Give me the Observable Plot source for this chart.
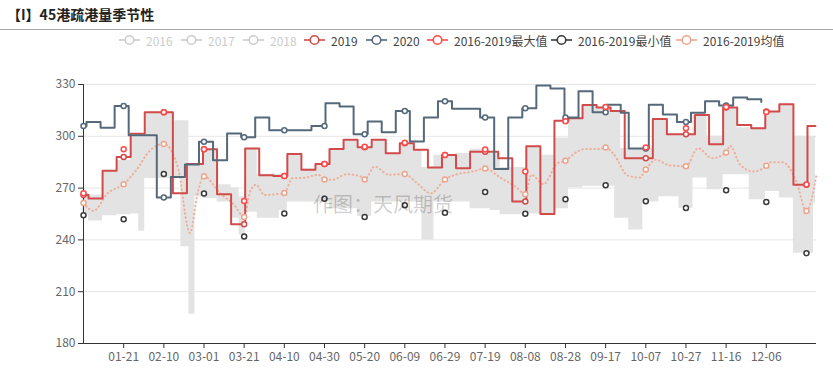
<!DOCTYPE html>
<html><head><meta charset="utf-8">
<script src="https://cdn.jsdelivr.net/npm/d3@7"></script>
<script src="https://cdn.jsdelivr.net/npm/@observablehq/plot@0.6"></script>
<style>
body{margin:0;background:#fff;font-family:"Noto Sans CJK SC","Noto Sans",sans-serif;}
#wrap{position:relative;width:833px;height:371px;overflow:hidden;background:#fff;}
#title{position:absolute;left:0;top:0;width:833px;height:30px;box-sizing:border-box;border-bottom:1px solid #a8a8a8;font-weight:bold;font-size:14px;line-height:29px;padding-left:7px;color:#222;}
#legend{position:absolute;left:0;top:31px;width:833px;height:18px;}
.li{position:absolute;top:0;height:18px;display:flex;align-items:center;font-size:12px;white-space:nowrap;}
.li svg{margin-right:6px;}
#chart{position:absolute;left:0;top:50px;}
#chart svg text{fill:#666;}
#wm{position:absolute;left:313px;top:194px;font-size:20px;line-height:20px;color:rgba(0,0,0,0.2);white-space:nowrap;}
</style></head>
<body>
<div id="wrap">
  <div id="title">【I】45港疏港量季节性</div>
  <div id="legend"></div>
  <div id="chart"></div>
  <div id="wm">作图：天风期货</div>
</div>
<script>
// ---------- data ----------
const xTickLabels = ["01-21","02-10","03-01","03-21","04-10","04-30","05-20","06-09","06-29","07-19","08-08","08-28","09-17","10-07","10-27","11-16","12-06"];
const yTicks = [180,210,240,270,300,330];

const dates2019 = ["01-01","01-04","01-11","01-18","01-25","02-01","02-08","02-15","02-22","03-01","03-08","03-15","03-22","03-29","04-05","04-12","04-19","04-26","05-03","05-10","05-17","05-24","05-31","06-07","06-14","06-21","06-28","07-05","07-12","07-19","07-26","08-02","08-09","08-16","08-23","08-30","09-06","09-13","09-20","09-27","10-04","10-11","10-18","10-25","11-01","11-08","11-15","11-22","11-29","12-06","12-13","12-20","12-27"];
const values2019 = [266,264,280,288,301.5,314,314,267,284,292.5,266.5,249,293,277.5,277,289.7,280.6,284,292.7,298,293.7,298,290.2,296,292.2,282,289.2,281.5,291,291,287.3,262.3,294.3,255,309,310.5,318.2,316.7,314.7,287.3,287.3,310,301.2,301.2,312.4,295.4,316.7,306.6,304.7,314.4,318.6,271.9,306];

const dates2020 = ["01-01","01-03","01-10","01-17","01-24","01-31","02-07","02-14","02-21","02-28","03-06","03-13","03-20","03-27","04-03","04-10","04-17","04-24","05-01","05-08","05-15","05-22","05-29","06-05","06-12","06-19","06-26","07-03","07-10","07-17","07-24","07-31","08-07","08-14","08-21","08-28","09-04","09-11","09-18","09-25","09-29","10-09","10-16","10-23","10-30","11-06","11-13","11-20","11-27","12-04"];
const values2020 = [306,308.3,304.9,317.6,300.6,300.6,264.5,276.5,283.7,296.8,286.2,301.6,299.5,310.9,303.5,303.5,303.5,306,319.2,317.3,301.2,308.6,302.4,314.7,297,310.9,320.3,316,316,310.9,281,310.9,316.3,329.4,327.7,310.9,326.1,314,318.3,313.7,293,318.3,312.6,308.3,313.7,320.3,317.8,322.5,321.4,319.8];

// grey band (2016-2019 range)
const bandDates = ["01-01","01-04","01-11","01-18","01-25","01-29","02-01","02-15","02-19","02-23","02-26","03-01","03-08","03-15","03-19","03-22","03-28","04-08","04-12","04-19","04-26","05-03","05-10","05-17","05-24","05-31","06-07","06-14","06-18","06-24","07-05","07-12","07-22","07-27","08-09","08-16","08-23","08-30","09-06","09-13","09-20","09-22","09-25","09-29","10-06","10-11","10-14","10-18","10-24","10-31","11-07","11-15","11-22","11-28","12-06","12-13","12-20","12-30"];
const bandHigh = [267,266,280,286,300,300,314,309,309,284,284,292.5,272,270,265,293,278,278,290,281,284,292.7,298,293.7,298,290.2,296,292.2,282,289,290,292.5,290,282,294,289,299,310.5,318,316.7,314.7,314.7,293,293,293,310,310,301,301,312.4,300,316.7,305,305,314.4,318.6,300,300];
const bandLow = [254.5,251,254,254.5,255,245,275.5,275.5,236,197,265,264,262,252.6,243,256,252.6,257,262,262,262,258,258,253.6,262,262,262,262,240,262,262,258,257,254.5,255,254.5,258,270,271,271,271,252.6,252.6,245.8,262,262,265,265,258.4,275.8,269,277.7,277.7,263.2,268,264.2,232.3,261.3];

// 2016-2019 mean (dotted)
const meanDates = ["01-01","01-06","01-13","01-21","01-27","02-03","02-10","02-17","02-23","02-27","03-01","03-09","03-16","03-21","03-24","03-27","03-31","04-06","04-10","04-14","04-20","04-27","04-30","05-04","05-11","05-18","05-20","05-25","06-01","06-09","06-15","06-22","06-29","07-06","07-13","07-19","07-27","08-03","08-08","08-11","08-17","08-24","08-28","09-01","09-07","09-14","09-17","09-21","09-28","10-04","10-07","10-12","10-19","10-27","11-02","11-09","11-16","11-18","11-23","11-30","12-06","12-08","12-14","12-21","12-26","12-31"];
const meanValues = [261.4,256.8,267,272.3,280,291.6,295.6,282,244,268,276.9,267,260.3,253.3,268,272,266,266.5,267.1,275.7,276,277.7,275,274.8,278,276.7,275,282.5,277.7,278.1,272.9,267,275,278.3,279.6,281.3,275.7,271,266.5,277.7,272.3,284.4,285.8,289.7,292.7,292.7,293.5,289.7,277.3,276.1,280.8,286.4,283.1,282.7,293.1,287.3,290.6,294.5,283.5,279.6,282.9,285,285,273.8,256.8,277.7];

// symbols shown every 20 days
const markerDates = ["01-01", ...xTickLabels, "12-26"];
const maxValues = [267,292.5,314,292.5,262.6,277,284,294,296.2,289.1,292.3,279.6,308.7,316.9,293.5,304.7,316.9,314.1,272.1];
const minValues = [254.3,252,278.2,266.9,242,255.3,263.8,253.2,260.1,255.7,267.8,255.1,263.6,271.7,262.4,258.5,268.8,262,232.3];

// ---------- helpers ----------
const T0 = Date.UTC(2020,0,1);
const dayOf = s => { const [m,d] = s.split("-").map(Number); return Math.round((Date.UTC(2020,m-1,d)-T0)/864e5); };
const END = 365;
function steps(dates, vals, extend){
  const p = dates.map((d,i)=>({x:dayOf(d), y:vals[i]}));
  if (extend) p.push({x:END, y:vals[vals.length-1]});
  return p;
}
function valueAt(series, day){ let v=null; for(const p of series){ if(p.x<=day) v=p.y; } return v; }

const s2019 = steps(dates2019, values2019, true);
const s2020 = steps(dates2020, values2020, false);
const band = bandDates.map((d,i)=>({x:dayOf(d), hi:bandHigh[i], lo:bandLow[i]}));
band.push({x:END, hi:bandHigh[bandHigh.length-1], lo:bandLow[bandLow.length-1]});
const mean = meanDates.map((d,i)=>({x:dayOf(d), y:meanValues[i]}));
const mDays = markerDates.map(dayOf);
const last2020 = s2020[s2020.length-1].x;
const dots2019 = mDays.map(x=>({x, y:valueAt(s2019,x)}));
const dots2020 = mDays.filter(x=>x<=last2020).map(x=>({x, y:valueAt(s2020,x)}));
const dotsMax = mDays.map((x,i)=>({x, y:maxValues[i]}));
const dotsMin = mDays.map((x,i)=>({x, y:minValues[i]}));
const dotsMean = mDays.map(x=>({x, y:mean.find(p=>p.x===x).y}));
const tickDays = xTickLabels.map(dayOf);
const tickLabel = new Map(tickDays.map((d,i)=>[d,xTickLabels[i]]));

// colors
const C2019="#d24b4b", C2020="#55697a", CMAX="#ff4a4a", CMIN="#3a3a3a", CMEAN="#eca58d", CBAND="#e3e3e3", COFF="#cccccc";

const chart = Plot.plot({
  width:833, height:321,
  marginTop:34, marginBottom:28, marginLeft:83, marginRight:17,
  style:{fontFamily:'"Noto Sans CJK SC","Noto Sans",sans-serif', fontSize:"12px", color:"#333", background:"transparent", overflow:"visible"},
  x:{type:"linear", domain:[0,END], ticks:tickDays, tickFormat:d=>tickLabel.get(d), tickSize:5, tickPadding:4, label:null},
  y:{domain:[180,330], ticks:yTicks, tickSize:5, tickPadding:3, label:null},
  marks:[
    Plot.ruleY(yTicks.filter(v=>v>180), {stroke:"#e6e6e6", strokeWidth:1}),
    Plot.areaY(band, {x:"x", y1:"lo", y2:"hi", curve:"step-after", fill:CBAND, dx:-1}),
    Plot.line(mean, {x:"x", y:"y", curve:"monotone-x", stroke:"#efae98", strokeWidth:2, strokeDasharray:"0.5,3.5", strokeLinecap:"round"}),
    Plot.line(s2019, {x:"x", y:"y", curve:"step-after", stroke:C2019, strokeWidth:2, dx:-1}),
    Plot.line(s2020, {x:"x", y:"y", curve:"step-after", stroke:C2020, strokeWidth:2, dx:-1}),
    Plot.ruleX([0], {y1:180, y2:330, stroke:"#333"}),
    Plot.ruleY([180], {stroke:"#333"}),
    Plot.dot(dots2019, {x:"x", y:"y", r:2.5, fill:"white", stroke:C2019, strokeWidth:1.5}),
    Plot.dot(dots2020, {x:"x", y:"y", r:2.5, fill:"white", stroke:C2020, strokeWidth:1.5}),
    Plot.dot(dotsMax, {x:"x", y:"y", r:2.5, fill:"white", stroke:CMAX, strokeWidth:1.5}),
    Plot.dot(dotsMin, {x:"x", y:"y", r:2.5, fill:"white", stroke:CMIN, strokeWidth:1.5}),
    Plot.dot(dotsMean, {x:"x", y:"y", r:2.5, fill:"white", stroke:CMEAN, strokeWidth:1.5})
  ]
});
document.getElementById("chart").appendChild(chart);

// ---------- legend ----------
const legendItems = [
  {label:"2016", color:COFF, off:true, left:119},
  {label:"2017", color:COFF, off:true, left:181},
  {label:"2018", color:COFF, off:true, left:243},
  {label:"2019", color:C2019, left:304},
  {label:"2020", color:C2020, left:366},
  {label:"2016-2019最大值", color:CMAX, left:427},
  {label:"2016-2019最小值", color:CMIN, left:551},
  {label:"2016-2019均值", color:CMEAN, left:676}
];
const lg = document.getElementById("legend");
for (const it of legendItems){
  const el = document.createElement("div");
  el.className = "li";
  el.style.left = it.left + "px";
  el.style.color = it.off ? COFF : "#444";
  el.innerHTML = `<svg width="21" height="12"><line x1="0" y1="6" x2="21" y2="6" stroke="${it.color}" stroke-width="1.6"/><circle cx="10.5" cy="6" r="4.3" fill="white" stroke="${it.color}" stroke-width="1.6"/></svg><span>${it.label}</span>`;
  lg.appendChild(el);
}
</script>
</body></html>
